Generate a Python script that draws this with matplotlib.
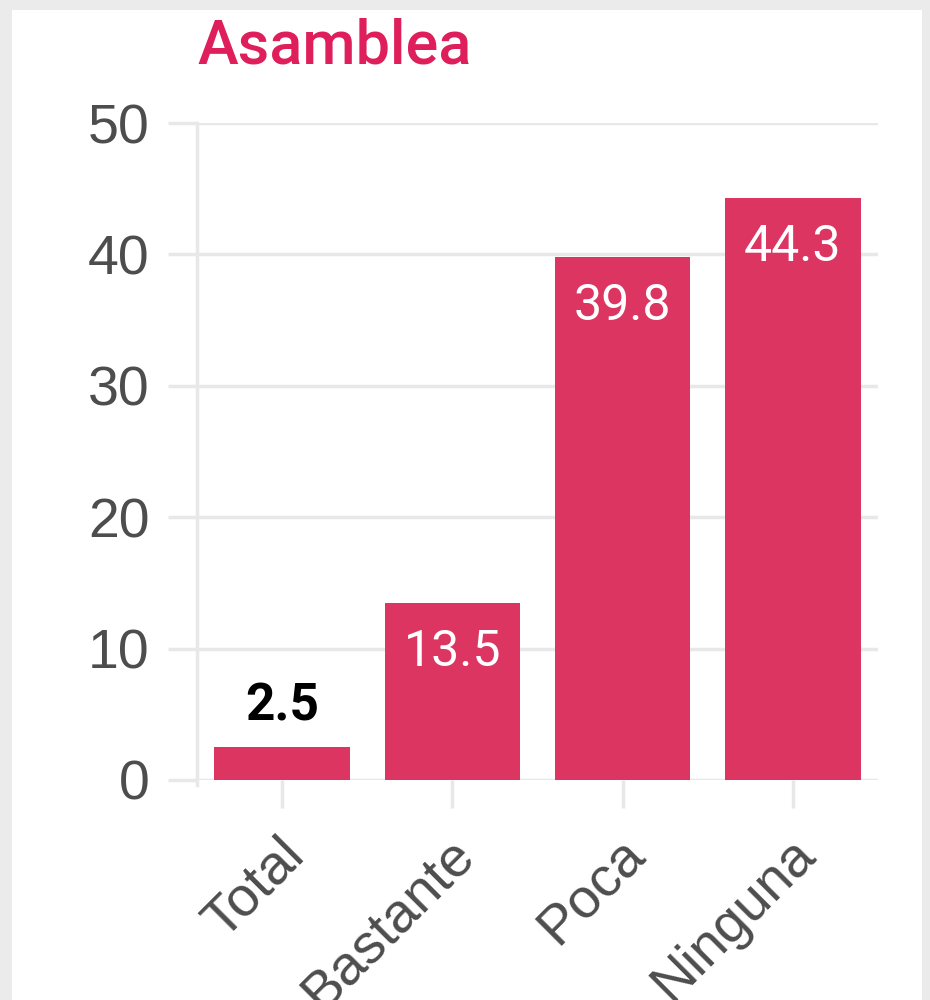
import matplotlib
matplotlib.use("Agg")
import matplotlib.pyplot as plt
from matplotlib.patches import Rectangle
from matplotlib.transforms import ScaledTranslation

categories = ["Total", "Bastante", "Poca", "Ninguna"]
values = [2.5, 13.5, 39.8, 44.3]
yticks = [0, 10, 20, 30, 40, 50]
title = "Asamblea"

plt.rcParams['font.family'] = ['Roboto', 'DejaVu Sans']

fig = plt.figure(figsize=(9.3, 10), dpi=100)
fig.patch.set_facecolor('#ebebeb')
fig.patches.append(Rectangle((12/930, 0), 910/930, 990/1000, transform=fig.transFigure,
                             facecolor='white', edgecolor='none', zorder=-10))

ax = fig.add_axes([197/930, 0.22, (878-197)/930, 0.657])
ax.set_facecolor('none')
bar_color = '#dc3562'
x = range(len(categories))
bars = ax.bar(x, values, width=0.795, color=bar_color, zorder=3)
ax.set_xlim(-0.5, 3.5)
ax.set_ylim(0, 50)
ax.set_yticks(yticks)
ax.set_yticklabels([str(v) for v in yticks], family=['Liberation Sans', 'DejaVu Sans'])
ax.set_xticks(list(x))
ax.set_xticklabels(categories, rotation=45, ha='right', va='baseline',
                   rotation_mode='anchor', family=['Liberation Sans', 'DejaVu Sans'])

for s in ['top', 'right', 'bottom']:
    ax.spines[s].set_visible(False)
ax.spines['left'].set_color('#e8e8e8')
ax.spines['left'].set_linewidth(2.5)
ax.spines['left'].set_bounds(-0.4, 50)

ax.grid(axis='y', color='#e8e8e8', linewidth=2.5, zorder=0)
ax.set_axisbelow(True)
ax.tick_params(axis='y', length=21, width=2.5, color='#e8e8e8', labelsize=40,
               labelcolor='#4d4d4d', pad=13)
ax.tick_params(axis='x', length=20, width=2.5, color='#e8e8e8', labelsize=40,
               labelcolor='#4d4d4d', pad=35)
off = ScaledTranslation(24/100, 0, fig.dpi_scale_trans)
for lab in ax.get_xticklabels():
    lab.set_transform(lab.get_transform() + off)

for i, v in enumerate(values):
    if v < 5:
        ax.text(i, v + 1.2, f"{v}", ha='center', va='bottom', fontsize=37,
                fontweight='bold', color='black')
    else:
        ax.text(i, v - 1.9, f"{v}", ha='center', va='top', fontsize=36,
                color='white', zorder=4)

fig.text(197/930, 1 - 63/1000, title, fontsize=44, color='#de1f5b',
         ha='left', va='baseline', fontweight='medium')

fig.savefig('out.png', dpi=100, facecolor=fig.get_facecolor())
